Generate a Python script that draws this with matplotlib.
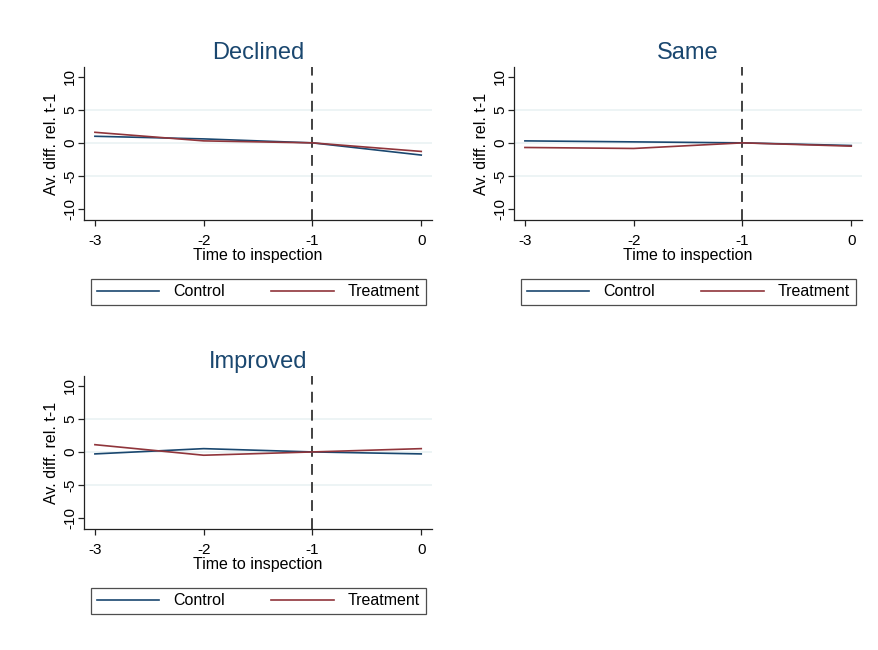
import matplotlib
matplotlib.use("Agg")
import matplotlib.pyplot as plt

plt.rcParams['font.family'] = ['Liberation Sans', 'DejaVu Sans']
plt.rcParams['axes.unicode_minus'] = False

# event time relative to inspection
periods = [-3, -2, -1, 0]

panels = ["Declined", "Same", "Improved"]

declined_control = [1.0, 0.6, 0.0, -1.85]
declined_treatment = [1.6, 0.3, 0.0, -1.3]
same_control = [0.3, 0.15, 0.0, -0.4]
same_treatment = [-0.7, -0.85, 0.0, -0.5]
improved_control = [-0.3, 0.5, 0.0, -0.3]
improved_treatment = [1.1, -0.5, 0.0, 0.5]

yticks = [-10, -5, 0, 5, 10]
xticks = [-3, -2, -1, 0]

series = {
    "Declined": (declined_control, declined_treatment),
    "Same": (same_control, same_treatment),
    "Improved": (improved_control, improved_treatment),
}

navy = "#1a476f"
maroon = "#90353b"

# axes boxes in figure fractions: left, bottom, width, height
boxes = {
    "Declined": [0.0956, 0.6615, 0.396, 0.2354],
    "Same": [0.5848, 0.6615, 0.396, 0.2354],
    "Improved": [0.0956, 0.186, 0.396, 0.2354],
}

fig = plt.figure(figsize=(8.79, 6.5), dpi=100)
fig.patch.set_facecolor("white")

for name in panels:
    ctrl, treat = series[name]
    l, b, w, h = boxes[name]
    ax = fig.add_axes([l, b, w, h])
    for gy in [-5, 0, 5]:
        ax.axhline(gy, color="#eaf2f3", lw=1.2, zorder=0)
    ax.axvline(-1, color="#333333", lw=1.3, ls=(0, (6, 4)), zorder=1)
    lc, = ax.plot(periods, ctrl, color=navy, lw=1.2, zorder=2, label="Control")
    lt, = ax.plot(periods, treat, color=maroon, lw=1.2, zorder=3, label="Treatment")

    ax.set_xlim(-3.1, 0.1)
    ax.set_ylim(-11.7, 11.5)
    ax.set_xticks(xticks)
    ax.set_yticks(yticks)
    ax.set_yticklabels([str(v) for v in yticks], rotation=90, va="center")
    ax.tick_params(labelsize=11, length=4, width=0.9, color="#222222")
    ax.tick_params(axis="x", pad=6)
    ax.tick_params(axis="y", pad=1)
    for s in ["top", "right"]:
        ax.spines[s].set_visible(False)
    for s in ["left", "bottom"]:
        ax.spines[s].set_color("#222222")
        ax.spines[s].set_linewidth(0.9)
    ax.set_xlabel("Time to inspection", fontsize=11.5, labelpad=0)
    ax.set_ylabel("Av. diff. rel. t-1", fontsize=11.5, labelpad=3)
    ax.set_title(name, fontsize=17, color=navy, pad=6)

    # legend box below the axes
    fx0 = l + 0.0079
    fy0 = b - 0.1307
    leg = fig.legend(handles=[lc, lt], loc="lower left",
                     bbox_to_anchor=(fx0, fy0, 0.381, 0.046),
                     mode="expand", ncol=2, fontsize=11.5, frameon=True,
                     fancybox=False, edgecolor="#222222", handlelength=3.9,
                     borderaxespad=0, borderpad=0.35, handletextpad=0.9,
                     columnspacing=1.5)
    leg.get_frame().set_linewidth(0.9)

fig.savefig("out.png", dpi=100, facecolor="white")
